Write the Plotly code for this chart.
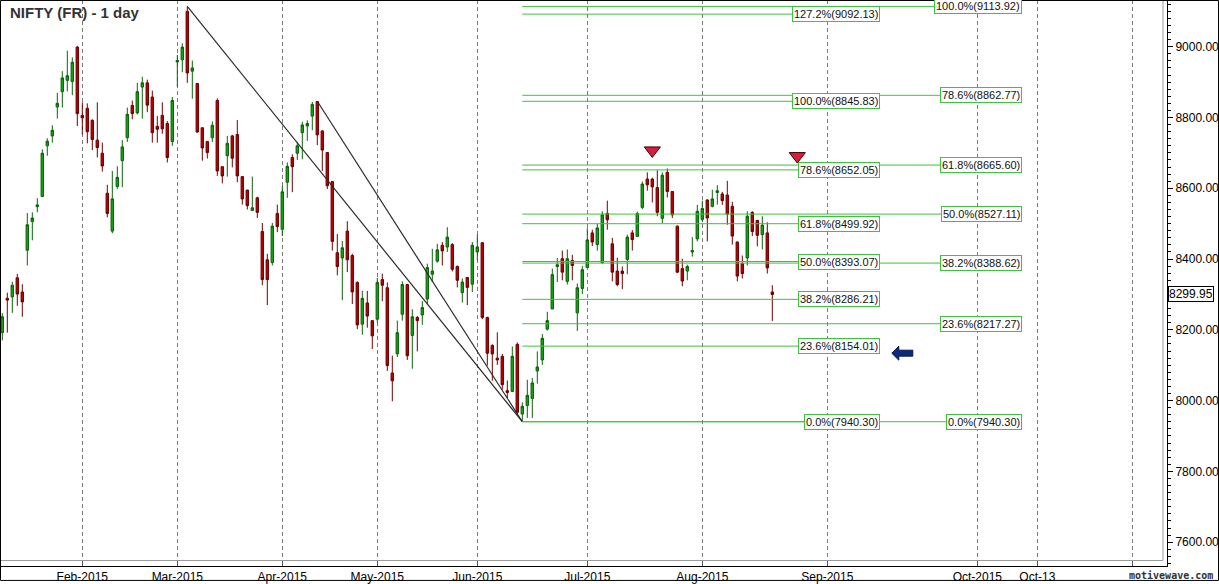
import pandas as pd
import plotly.graph_objects as go

# ---------------- data ----------------
holidays = ["2015-01-26", "2015-02-17", "2015-03-06", "2015-04-02",
            "2015-04-03", "2015-04-14", "2015-05-01"]
dates = [d for d in pd.bdate_range("2015-01-08", "2015-08-21")
         if d.strftime("%Y-%m-%d") not in holidays]

opens = [8192, 8289, 8293, 8347, 8307, 8425, 8506, 8548, 8577, 8720,
         8748, 8830, 8873, 8905, 8902, 8999, 8806, 8826, 8792, 8736,
         8699, 8586, 8479, 8605, 8678, 8743, 8834, 8813, 8886, 8898,
         8858, 8775, 8806, 8783, 8732, 8957, 8963, 9100, 8931, 8896,
         8771, 8732, 8743, 8848, 8661, 8692, 8748, 8752, 8633, 8595,
         8537, 8573, 8478, 8398, 8390, 8529, 8484, 8617, 8687, 8699,
         8757, 8776, 8804, 8845, 8762, 8701, 8619, 8418, 8403, 8479,
         8410, 8334, 8216, 8276, 8226, 8230, 8342, 8319, 8078, 8132,
         8244, 8328, 8184, 8235, 8242, 8287, 8357, 8394, 8439, 8434,
         8441, 8379, 8305, 8348, 8329, 8420, 8446, 8235, 8156, 8120,
         8125, 8028, 8026, 8159, 7962, 7986, 8006, 8084, 8115, 8202,
         8259, 8379, 8401, 8337, 8396, 8248, 8317, 8376, 8474, 8441,
         8390, 8529, 8443, 8366, 8366, 8399, 8474, 8464, 8546, 8626,
         8626, 8602, 8515, 8645, 8591, 8493, 8373, 8366, 8420, 8457,
         8512, 8567, 8549, 8588, 8584, 8581, 8549, 8448, 8387, 8403,
         8532, 8509, 8469, 8474, 8307]
highs = [8247, 8305, 8336, 8358, 8329, 8530, 8532, 8572, 8710, 8741,
         8778, 8870, 8931, 8989, 8970, 9002, 8843, 8840, 8795, 8843,
         8729, 8610, 8649, 8662, 8736, 8828, 8848, 8898, 8915, 8907,
         8876, 8804, 8843, 8790, 8858, 8977, 9010, 9113.92, 8961, 8898,
         8772, 8733, 8789, 8854, 8661, 8748, 8751, 8793, 8633, 8595,
         8633, 8576, 8502, 8415, 8502, 8554, 8607, 8673, 8696, 8731,
         8788, 8792, 8844, 8845.83, 8764, 8701, 8621, 8471, 8451, 8507,
         8415, 8337, 8310, 8310, 8226, 8347, 8359, 8334, 8127, 8226,
         8337, 8330, 8258, 8239, 8281, 8387, 8429, 8443, 8448, 8490,
         8445, 8382, 8345, 8348, 8448, 8469, 8448, 8237, 8159, 8193,
         8132, 8057, 8153, 8164, 7995, 8059, 8064, 8139, 8188, 8251,
         8373, 8403, 8424, 8427, 8412, 8331, 8380, 8487, 8483, 8499,
         8535, 8565, 8460, 8404, 8379, 8469, 8482, 8534, 8619, 8645,
         8630, 8651, 8645, 8656, 8591, 8495, 8401, 8384, 8462, 8553,
         8565, 8569, 8596, 8609, 8590, 8621, 8562, 8450, 8410, 8535,
         8535, 8511, 8521, 8504, 8326]
lows = [8170, 8192, 8248, 8268, 8237, 8382, 8453, 8532, 8576, 8692,
        8729, 8797, 8828, 8874, 8863, 8776, 8752, 8727, 8708, 8687,
        8647, 8518, 8473, 8598, 8603, 8731, 8795, 8809, 8797, 8815,
        8729, 8729, 8754, 8673, 8720, 8887, 8928, 8898, 8853, 8757,
        8678, 8684, 8731, 8635, 8614, 8633, 8659, 8617, 8554, 8540,
        8537, 8516, 8326, 8270, 8382, 8476, 8465, 8573, 8589, 8680,
        8682, 8734, 8764, 8722, 8649, 8598, 8424, 8354, 8284, 8363,
        8273, 8202, 8186, 8206, 8146, 8221, 8281, 8084, 7998, 8123,
        8226, 8115, 8090, 8139, 8214, 8273, 8335, 8390, 8382, 8420,
        8365, 8320, 8277, 8270, 8307, 8396, 8230, 8099, 8056, 8101,
        8031, 8006, 8024, 7961, 7940.30, 7951, 7951, 8048, 8101, 8198,
        8259, 8335, 8340, 8328, 8340, 8197, 8301, 8376, 8437, 8424,
        8387, 8483, 8337, 8323, 8315, 8357, 8424, 8464, 8541, 8593,
        8560, 8521, 8502, 8574, 8516, 8360, 8323, 8340, 8407, 8450,
        8504, 8450, 8546, 8554, 8553, 8497, 8441, 8337, 8345, 8382,
        8465, 8436, 8427, 8359, 8225]
closes = [8237, 8284, 8326, 8301, 8279, 8497, 8516, 8553, 8699, 8733,
          8764, 8840, 8912, 8918, 8956, 8811, 8799, 8760, 8738, 8715,
          8663, 8529, 8570, 8631, 8717, 8809, 8811, 8873, 8898, 8835,
          8757, 8767, 8768, 8687, 8848, 8961, 8999, 8926, 8940, 8759,
          8714, 8701, 8778, 8649, 8635, 8727, 8685, 8635, 8570, 8551,
          8545, 8532, 8342, 8342, 8493, 8492, 8590, 8662, 8661, 8720,
          8779, 8783, 8837, 8751, 8708, 8607, 8450, 8379, 8432, 8398,
          8307, 8214, 8289, 8239, 8183, 8334, 8326, 8099, 8056, 8192,
          8328, 8127, 8237, 8226, 8263, 8376, 8366, 8426, 8423, 8462,
          8371, 8340, 8335, 8320, 8439, 8434, 8235, 8134, 8132, 8115,
          8045, 8023, 8125, 7967, 7984, 8015, 8050, 8095, 8176, 8226,
          8356, 8384, 8363, 8401, 8382, 8319, 8370, 8454, 8448, 8488,
          8525, 8511, 8363, 8328, 8359, 8462, 8455, 8529, 8612, 8610,
          8604, 8532, 8637, 8591, 8525, 8363, 8338, 8379, 8424, 8535,
          8543, 8516, 8570, 8593, 8565, 8527, 8465, 8352, 8359, 8521,
          8478, 8467, 8496, 8375, 8299.95]

month_dates = ["2015-02-01", "2015-03-01", "2015-04-01", "2015-05-01", "2015-06-01",
               "2015-07-01", "2015-08-01", "2015-09-01", "2015-10-01", "2015-10-13",
               "2015-11-01"]
month_labels = ["Feb-2015", "Mar-2015", "Apr-2015", "May-2015", "Jun-2015",
                "Jul-2015", "Aug-2015", "Sep-2015", "Oct-2015", "Oct-13", ""]

fibA_pct = ["127.2%", "100.0%", "78.6%", "61.8%", "50.0%", "38.2%", "23.6%", "0.0%"]
fibA_val = [9092.13, 8845.83, 8652.05, 8499.92, 8393.07, 8286.21, 8154.01, 7940.30]
fibB_pct = ["100.0%", "78.6%", "61.8%", "50.0%", "38.2%", "23.6%", "0.0%"]
fibB_val = [9113.92, 8862.77, 8665.60, 8527.11, 8388.62, 8217.27, 7940.30]

pivot_dates = ["2015-03-04", "2015-04-15", "2015-06-12"]
signal_dates = ["2015-07-20", "2015-08-26"]
signal_prices = [8707, 8691]
arrow_date = "2015-09-16"
arrow_price = 8134
last_price = 8299.95

# ---------------- helpers ----------------
last_day = dates[-1]


def xpos(ds):
    d = pd.Timestamp(ds)
    if d <= last_day:
        for i, t in enumerate(dates):
            if t >= d:
                return i
    return len(dates) - 1 + (d - last_day).days


xs = list(range(len(dates)))
W, H = 1219, 584
ML, MR, MT, MB = 0, 52, 0, 15
PW, PH = W - ML - MR, H - MT - MB
XMIN, XMAX = -0.46, 232.94
YMIN, YMAX = 7532.6, 9132.1
PX_X = (XMAX - XMIN) / PW
PX_Y = (YMAX - YMIN) / PH

GREEN_LINE = "#3cc43c"

fig = go.Figure()
fig.add_trace(go.Candlestick(
    x=xs, open=opens, high=highs, low=lows, close=closes,
    increasing=dict(fillcolor="#12a012", line=dict(color="#0b640b", width=1)),
    decreasing=dict(fillcolor="#b40000", line=dict(color="#700000", width=1)),
    whiskerwidth=0, showlegend=False, hoverinfo="skip"))

# signal triangles
fig.add_trace(go.Scatter(
    x=[xpos(d) for d in signal_dates], y=signal_prices, mode="markers",
    marker=dict(symbol="triangle-down", size=14, color="#d81e3c",
                line=dict(color="#3a0000", width=1)),
    showlegend=False, hoverinfo="skip"))

shapes = []
annotations = []

# diagonal trend lines
p_hi1, p_hi2, p_lo = [xpos(d) for d in pivot_dates]
for xa, ya in [(p_hi1, highs[p_hi1]), (p_hi2, highs[p_hi2])]:
    shapes.append(dict(type="line", xref="x", yref="y", x0=xa, y0=ya,
                       x1=p_lo, y1=lows[p_lo],
                       line=dict(color="#2a2a2a", width=1.2)))

# fib levels
boxA_right = (880 - 2.3) / 5
boxB_right = (1022 - 2.3) / 5
for pcts, vals, xr in [(fibA_pct, fibA_val, boxA_right), (fibB_pct, fibB_val, boxB_right)]:
    for p, v in zip(pcts, vals):
        shapes.append(dict(type="line", xref="x", yref="y", x0=p_lo, x1=xr - 5,
                           y0=v, y1=v, line=dict(color=GREEN_LINE, width=1)))
        annotations.append(dict(
            x=xr, y=v, xref="x", yref="y", xanchor="right", yanchor="middle",
            text=f"{p}({v:.2f})", showarrow=False,
            font=dict(family="Liberation Sans, Arial", size=11, color="#111"),
            bgcolor="white", bordercolor=GREEN_LINE, borderwidth=1, borderpad=1))

# blue arrow
ax, ay = xpos(arrow_date), arrow_price
pts = [(-10.5, 0), (-3.5, 7), (-3.5, 3), (10.5, 3), (10.5, -3), (-3.5, -3), (-3.5, -7)]
path = "M " + " L ".join(f"{ax + px * PX_X:.4f},{ay + py * PX_Y:.3f}" for px, py in pts) + " Z"
shapes.append(dict(type="path", xref="x", yref="y", path=path,
                   fillcolor="#0d2a7a", line=dict(color="#081850", width=1)))

# gray inner frame
shapes.append(dict(type="line", xref="paper", yref="paper", x0=1163 / PW, x1=1163 / PW,
                   y0=5.5 / PH, y1=1, line=dict(color="#9a9a9a", width=1)))
shapes.append(dict(type="line", xref="paper", yref="paper", x0=0, x1=1163 / PW,
                   y0=5.5 / PH, y1=5.5 / PH, line=dict(color="#9a9a9a", width=1)))
# outer black frame
shapes.append(dict(type="rect", xref="paper", yref="paper",
                   x0=0.5 / PW, x1=(W - 0.5) / PW, y0=-(MB - 0.5) / PH, y1=1 - 0.5 / PH,
                   line=dict(color="black", width=1), fillcolor="rgba(0,0,0,0)"))

# title
annotations.append(dict(x=8 / PW, y=1 - 13 / PH, xref="paper", yref="paper",
                        xanchor="left", yanchor="middle", showarrow=False,
                        text="<b>NIFTY (FR) - 1 day</b>",
                        font=dict(family="Liberation Sans, Arial", size=15, color="#333")))
# last price label
annotations.append(dict(x=1.0, y=last_price, xref="paper", yref="y",
                        xanchor="left", yanchor="middle", showarrow=False,
                        text=f"{last_price:.2f}", xshift=1,
                        font=dict(family="Liberation Sans, Arial", size=12, color="black"),
                        bgcolor="white", bordercolor="black", borderwidth=1, borderpad=0))
# watermark
annotations.append(dict(x=(W - 4) / PW, y=-9.5 / PH, xref="paper", yref="paper",
                        xanchor="right", yanchor="middle", showarrow=False,
                        text="<b>motivewave.com</b>",
                        font=dict(family="DejaVu Sans Mono", size=10, color="#333")))

fig.update_layout(
    width=W, height=H,
    margin=dict(l=ML, r=MR, t=MT, b=MB, pad=0),
    paper_bgcolor="white", plot_bgcolor="white",
    shapes=shapes, annotations=annotations,
    showlegend=False,
    xaxis=dict(
        range=[XMIN, XMAX], rangeslider=dict(visible=False),
        tickmode="array", tickvals=[xpos(d) for d in month_dates], ticktext=month_labels,
        ticks="inside", ticklen=6, tickcolor="#555", tickwidth=1,
        showline=True, linecolor="black", linewidth=1,
        showgrid=True, gridcolor="#7a7a7a", gridwidth=1, griddash="4px,3px",
        zeroline=False,
        tickfont=dict(family="Liberation Sans, Arial", size=12, color="black")),
    yaxis=dict(
        range=[YMIN, YMAX], side="right",
        tickmode="linear", tick0=7600, dtick=200, tickformat=".2f",
        ticks="outside", ticklen=5, tickcolor="black",
        minor=dict(dtick=20, tick0=7600, ticks="outside", ticklen=3, tickcolor="black"),
        showline=True, linecolor="black", linewidth=1,
        showgrid=False, zeroline=False,
        tickfont=dict(family="Liberation Sans, Arial", size=12, color="black")),
)

fig.write_html("out.html", config={"displayModeBar": False},
               post_script="document.body.style.margin='0';document.body.style.overflow='hidden';")
